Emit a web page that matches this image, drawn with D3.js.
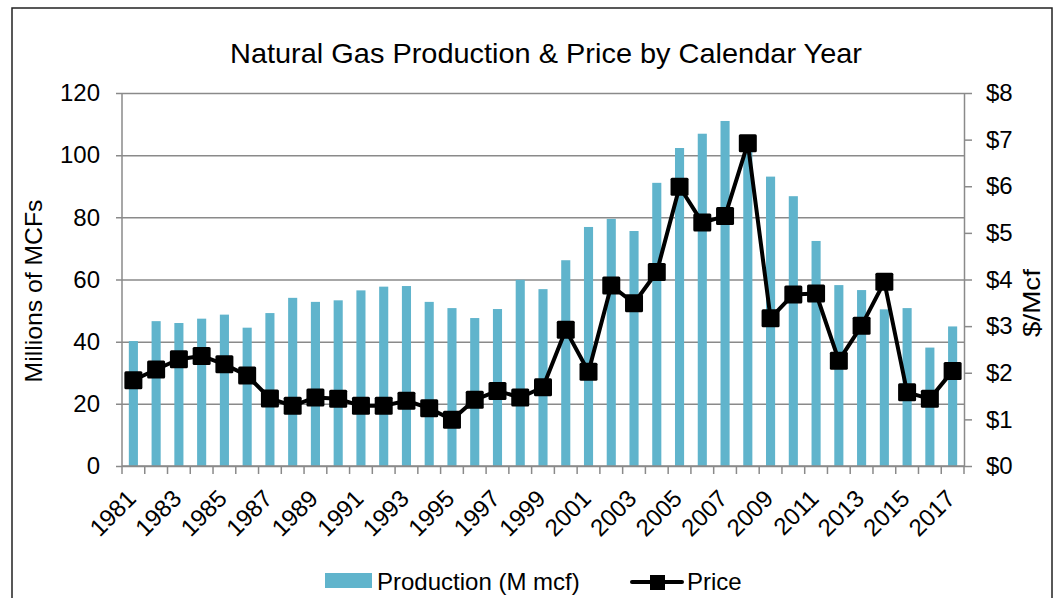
<!DOCTYPE html>
<html>
<head>
<meta charset="utf-8">
<script src="https://cdn.jsdelivr.net/npm/d3@7"></script>
<style>
  body { margin: 0; background: #fff; }
  svg text { font-family: "Liberation Sans", Arial, sans-serif; fill: #000; }
</style>
</head>
<body>
<svg id="chart" width="1056" height="598"></svg>
<script>
// chart values
const years = [1981, 1982, 1983, 1984, 1985, 1986, 1987, 1988, 1989, 1990,
  1991, 1992, 1993, 1994, 1995, 1996, 1997, 1998, 1999, 2000,
  2001, 2002, 2003, 2004, 2005, 2006, 2007, 2008, 2009, 2010,
  2011, 2012, 2013, 2014, 2015, 2016, 2017];
const production = [40.2, 46.6, 46.0, 47.4, 48.7, 44.5, 49.2, 54.1, 52.8, 53.3,
  56.5, 57.7, 57.9, 52.8, 50.8, 47.6, 50.5, 59.9, 56.9, 66.2,
  76.9, 79.5, 75.6, 91.1, 102.3, 106.9, 111.0, 104.5, 93.1, 86.8,
  72.4, 58.2, 56.6, 50.4, 50.8, 38.1, 44.9];
const price = [1.84, 2.07, 2.29, 2.36, 2.18, 1.94, 1.45, 1.29, 1.47, 1.44,
  1.29, 1.29, 1.40, 1.24, 0.99, 1.42, 1.61, 1.47, 1.69, 2.92,
  2.02, 3.87, 3.49, 4.16, 5.99, 5.22, 5.36, 6.92, 3.17, 3.68,
  3.70, 2.26, 3.01, 3.95, 1.58, 1.44, 2.04];
const yearLabels = [1981, 1983, 1985, 1987, 1989, 1991, 1993, 1995, 1997, 1999,
  2001, 2003, 2005, 2007, 2009, 2011, 2013, 2015, 2017];
const prodTicks = [0, 20, 40, 60, 80, 100, 120];
const priceTicks = [0, 1, 2, 3, 4, 5, 6, 7, 8];

const margin = { left: 122, right: 964, top: 93, bottom: 466 };
const gridColor = "#8a8a8a";
const barColor = "#60b4cc";

const svg = d3.select("svg#chart");

// outer frame
svg.append("rect")
  .attr("x", 12).attr("y", 8)
  .attr("width", 1040).attr("height", 620)
  .attr("fill", "none").attr("stroke", "#222").attr("stroke-width", 1.5);

// scales
const x = d3.scaleBand()
  .domain(years)
  .range([margin.left, margin.right])
  .paddingInner(0.6)
  .paddingOuter(0.3);
const yL = d3.scaleLinear().domain([0, 120]).range([margin.bottom, margin.top]);
const yR = d3.scaleLinear().domain([0, 8]).range([margin.bottom, margin.top]);

// left axis with gridlines
const left = svg.append("g")
  .attr("transform", translate(margin.left - 6, 0))
  .call(d3.axisLeft(yL).tickValues(prodTicks)
    .tickSize(-(margin.right - margin.left + 6)).tickPadding(16));
left.select(".domain").remove();
left.selectAll(".tick line").attr("stroke", gridColor).attr("stroke-width", 1.5);
left.selectAll(".tick text").attr("font-size", 24).attr("fill", "#000");

// left axis line
svg.append("line")
  .attr("x1", margin.left).attr("x2", margin.left)
  .attr("y1", margin.top).attr("y2", margin.bottom)
  .attr("stroke", gridColor).attr("stroke-width", 1.5);

// right axis
const right = svg.append("g")
  .attr("transform", translate(margin.right, 0))
  .call(d3.axisRight(yR).tickValues(priceTicks).tickFormat(d3.format("$.0f"))
    .tickSize(8).tickSizeOuter(0).tickPadding(14));
right.select(".domain").attr("stroke", gridColor).attr("stroke-width", 1.5);
right.selectAll(".tick line").attr("stroke", gridColor).attr("stroke-width", 1.5);
right.selectAll(".tick text").attr("font-size", 24).attr("fill", "#000");

// bars
svg.append("g").selectAll("rect.bar")
  .data(years)
  .enter()
  .append("rect")
  .attr("class", "bar")
  .attr("x", d => x(d))
  .attr("width", x.bandwidth())
  .attr("y", (d, i) => yL(production[i]))
  .attr("height", (d, i) => yL(0) - yL(production[i]))
  .attr("fill", barColor);

// bottom axis line and category ticks
const bottom = svg.append("g");
bottom.append("line")
  .attr("x1", margin.left).attr("x2", margin.right)
  .attr("y1", margin.bottom).attr("y2", margin.bottom)
  .attr("stroke", gridColor).attr("stroke-width", 1.5);
const edges = years.map(d => x(d) + x.bandwidth() / 2 - x.step() / 2)
  .concat([x(years[years.length - 1]) + x.bandwidth() / 2 + x.step() / 2]);
bottom.selectAll("line.tick")
  .data(edges)
  .enter()
  .append("line")
  .attr("class", "tick")
  .attr("x1", d => d).attr("x2", d => d)
  .attr("y1", margin.bottom).attr("y2", margin.bottom + 8)
  .attr("stroke", gridColor).attr("stroke-width", 1.5);
bottom.selectAll("text.year")
  .data(yearLabels)
  .enter()
  .append("text")
  .attr("class", "year")
  .attr("transform", d => translate(x(d) + x.bandwidth() / 2 + 4, 500) + " rotate(-45)")
  .attr("text-anchor", "end")
  .attr("font-size", 24)
  .text(d => d);

// price line
const line = d3.line()
  .x(d => x(d) + x.bandwidth() / 2)
  .y((d, i) => yR(price[i]));
svg.append("path")
  .datum(years)
  .attr("d", line)
  .attr("fill", "none")
  .attr("stroke", "#000")
  .attr("stroke-width", 4)
  .attr("stroke-linejoin", "round");
const m = 18;
svg.append("g").selectAll("rect.marker")
  .data(years)
  .enter()
  .append("rect")
  .attr("class", "marker")
  .attr("x", d => x(d) + x.bandwidth() / 2 - m / 2)
  .attr("y", (d, i) => yR(price[i]) - m / 2)
  .attr("width", m).attr("height", m)
  .attr("rx", 1.5)
  .attr("fill", "#000");

// titles (lengths fitted to the reference)
svg.append("text")
  .attr("x", 546).attr("y", 63)
  .attr("text-anchor", "middle")
  .attr("font-size", 28.5)
  .attr("textLength", 632).attr("lengthAdjust", "spacingAndGlyphs")
  .text("Natural Gas Production & Price by Calendar Year");
svg.append("text")
  .attr("transform", translate(42, 291) + " rotate(-90)")
  .attr("text-anchor", "middle")
  .attr("font-size", 24.5)
  .attr("textLength", 183).attr("lengthAdjust", "spacingAndGlyphs")
  .text("Millions of MCFs");
svg.append("text")
  .attr("transform", translate(1040, 303) + " rotate(-90)")
  .attr("text-anchor", "middle")
  .attr("font-size", 24.5)
  .attr("textLength", 68).attr("lengthAdjust", "spacingAndGlyphs")
  .text("$/Mcf");

// legend
const legend = svg.append("g");
legend.append("rect")
  .attr("x", 325).attr("y", 573).attr("width", 47).attr("height", 15)
  .attr("fill", barColor);
legend.append("text")
  .attr("x", 377).attr("y", 590).attr("font-size", 24)
  .text("Production (M mcf)");
legend.append("line")
  .attr("x1", 632).attr("x2", 682).attr("y1", 582).attr("y2", 582)
  .attr("stroke", "#000").attr("stroke-width", 4).attr("stroke-linecap", "round");
legend.append("rect")
  .attr("x", 650).attr("y", 575).attr("width", 15).attr("height", 15)
  .attr("fill", "#000");
legend.append("text")
  .attr("x", 687).attr("y", 590).attr("font-size", 24)
  .text("Price");

function translate(x, y) {
  return "translate(" + String(x) + "," + String(y) + ")";
}
</script>
</body>
</html>
